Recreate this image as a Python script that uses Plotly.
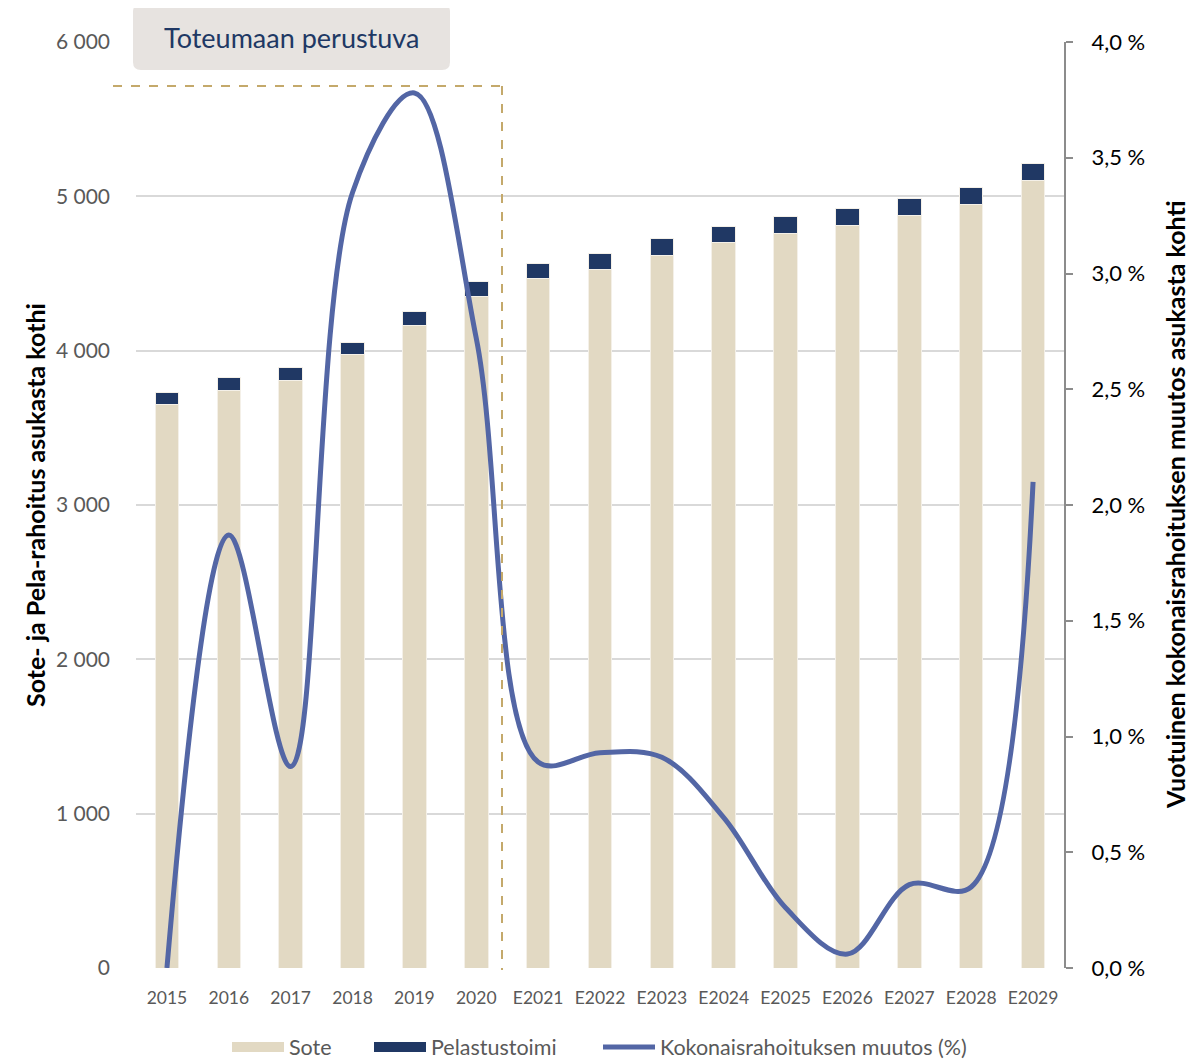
import plotly.graph_objects as go

years = ["2015", "2016", "2017", "2018", "2019", "2020", "E2021", "E2022", "E2023",
         "E2024", "E2025", "E2026", "E2027", "E2028", "E2029"]
sote = [3648, 3741, 3808, 3972, 4166, 4350, 4465, 4529, 4616, 4698, 4762, 4812, 4879, 4948, 5101]
pelastus = [82, 84, 82, 78, 86, 97, 97, 102, 110, 108, 106, 110, 110, 108, 113]
muutos = [0.0, 1.87, 0.87, 3.35, 3.78, 2.72, 0.89, 0.93, 0.91, 0.65, 0.26, 0.06, 0.36, 0.35, 2.10]

left_ticks = [0, 1000, 2000, 3000, 4000, 5000, 6000]
left_ticktext = ["0", "1 000", "2 000", "3 000", "4 000", "5 000", "6 000"]
right_ticks = [0, 0.5, 1.0, 1.5, 2.0, 2.5, 3.0, 3.5, 4.0]
right_ticktext = ["0,0 %", "0,5 %", "1,0 %", "1,5 %", "2,0 %", "2,5 %", "3,0 %", "3,5 %", "4,0 %"]

OFF = 8  # page body margin
W, H = 1204 - OFF, 1063 - OFF
SL, SR, ST, SB = 136, 1064, 42, 968  # plot area in screen pixels
FONT = "Lato"
SOTE_C, PEL_C, LINE_C = "#E2D9C3", "#203864", "#5366A5"


def px(x):
    return (x - SL) / (SR - SL)


def py(y):
    return (SB - y) / (SB - ST)


fig = go.Figure()
fig.add_trace(go.Bar(x=years, y=sote, name="Sote", showlegend=False,
                     marker=dict(color=SOTE_C, line=dict(color="#F4F0E8", width=1))))
fig.add_trace(go.Bar(x=years, y=pelastus, name="Pelastustoimi", showlegend=False,
                     marker=dict(color=PEL_C, line=dict(color="#F4F0E8", width=1))))
fig.add_trace(go.Scatter(x=years, y=muutos, name="Kokonaisrahoituksen muutos (%)", yaxis="y2", mode="lines",
                         line=dict(color=LINE_C, width=5, shape="spline", smoothing=1.0), cliponaxis=False,
                         legend="legend3"))
# legend proxies with wide rectangular swatches
fig.add_trace(go.Scatter(x=[None], y=[None], mode="lines", name="Sote",
                         line=dict(color=SOTE_C, width=14), legend="legend"))
fig.add_trace(go.Scatter(x=[None], y=[None], mode="lines", name="Pelastustoimi",
                         line=dict(color=PEL_C, width=14), legend="legend2"))

# rounded box for label
x0, x1, y0, y1, r = 133, 450, 4, 70, 8
path = (f"M {px(x0 + r)},{py(y0)} L {px(x1 - r)},{py(y0)} Q {px(x1)},{py(y0)} {px(x1)},{py(y0 + r)} "
        f"L {px(x1)},{py(y1 - r)} Q {px(x1)},{py(y1)} {px(x1 - r)},{py(y1)} "
        f"L {px(x0 + r)},{py(y1)} Q {px(x0)},{py(y1)} {px(x0)},{py(y1 - r)} "
        f"L {px(x0)},{py(y0 + r)} Q {px(x0)},{py(y0)} {px(x0 + r)},{py(y0)} Z")

shapes = [
    dict(type="path", xref="paper", yref="paper", path=path, fillcolor="#E7E3E0", line=dict(width=0), layer="above"),
    dict(type="line", xref="paper", yref="paper", x0=px(113), x1=px(502), y0=py(86), y1=py(86),
         line=dict(color="#C4A96B", width=2, dash="dash")),
    dict(type="line", xref="paper", yref="paper", x0=px(502), x1=px(502), y0=py(86), y1=py(970),
         line=dict(color="#C4A96B", width=2, dash="dash")),
]

annotations = [
    dict(text="Toteumaan perustuva", xref="paper", yref="paper", x=px(291), y=py(38), showarrow=False,
         font=dict(family=FONT, size=27, color="#203864"), xanchor="center", yanchor="middle"),
    dict(text="<b>Sote- ja Pela-rahoitus asukasta kothi</b>", xref="paper", yref="paper", x=px(35), y=py(505),
         textangle=-90, showarrow=False, font=dict(family=FONT, size=25, color="#000000"),
         xanchor="center", yanchor="middle"),
    dict(text="<b>Vuotuinen kokonaisrahoituksen muutos asukasta kohti</b>", xref="paper", yref="paper",
         x=px(1175), y=py(505), textangle=-90, showarrow=False, font=dict(family=FONT, size=25, color="#000000"),
         xanchor="center", yanchor="middle"),
]

leg_common = dict(orientation="h", yanchor="middle", y=py(1047), xanchor="left", itemwidth=52,
                  font=dict(family=FONT, size=21.5, color="#595959"), bgcolor="rgba(0,0,0,0)")

fig.update_layout(
    width=W, height=H,
    margin=dict(l=SL - OFF, r=W - (SR - OFF), t=ST - OFF, b=H - (SB - OFF), autoexpand=False),
    paper_bgcolor="white", plot_bgcolor="white",
    barmode="stack", bargap=0.62,
    font=dict(family=FONT, color="#595959"),
    shapes=shapes, annotations=annotations,
    showlegend=True,
    legend=dict(x=px(227), **leg_common),
    legend2=dict(x=px(369), **leg_common),
    legend3=dict(x=px(598), **leg_common),
    xaxis=dict(showgrid=False, showline=False, ticks="", tickfont=dict(family=FONT, size=17.5, color="#595959"),
               ticklabelstandoff=17),
    yaxis=dict(range=[0, 6000], tickvals=left_ticks, ticktext=left_ticktext, showgrid=True,
               gridcolor="#D9D9D9", gridwidth=2, zeroline=False, showline=False, ticks="",
               tickfont=dict(family=FONT, size=21, color="#595959"), ticklabelstandoff=25),
    yaxis2=dict(range=[0, 4], overlaying="y", side="right", tickvals=right_ticks, ticktext=right_ticktext,
                showgrid=False, zeroline=False, showline=True, linecolor="#8C8C8C", linewidth=2,
                ticks="outside", ticklen=7, tickcolor="#8C8C8C", tickwidth=1.5,
                tickfont=dict(family=FONT, size=22, color="#000000"), ticklabelstandoff=14),
)

fig.write_html("out.html")
